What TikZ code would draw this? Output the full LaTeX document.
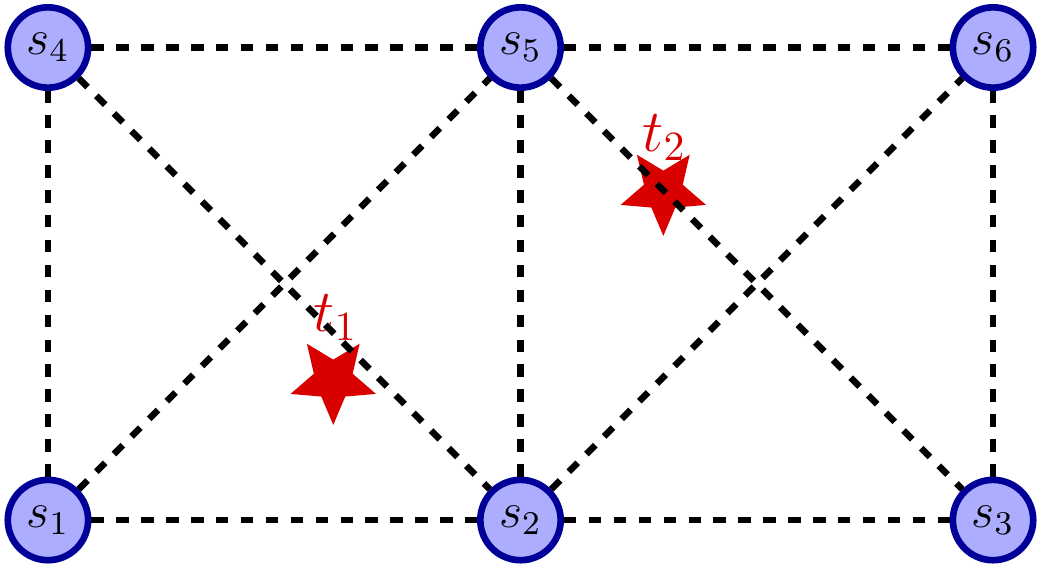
\documentclass[tikz,border=0pt]{standalone}
\usepackage{amsmath}
\usepackage{amssymb}
\usepackage{tikz}
\usetikzlibrary{shapes.geometric}

\tikzset{
  sensor/.style={circle,draw=blue!60!black,fill=blue!32,ultra thick,minimum size=0.68cm,inner sep=0pt,font=\large},
  target/.style={star,star points=5,star point ratio=2.2,shape border rotate=180,fill=red!85!black,minimum size=0.76cm,inner sep=0pt},
  tname/.style={text=red!85!black,font=\Large,inner sep=0pt,anchor=base west},
  link/.style={ultra thick,dashed}
}

\begin{document}
\begin{tikzpicture}
  \useasboundingbox (-0.406,-0.432) rectangle (8.423,4.402);
  % sensors
  \node[sensor] (s1) at (0,0) {$s_1$};
  \node[sensor] (s2) at (4,0) {$s_2$};
  \node[sensor] (s3) at (8,0) {$s_3$};
  \node[sensor] (s4) at (0,4) {$s_4$};
  \node[sensor] (s5) at (4,4) {$s_5$};
  \node[sensor] (s6) at (8,4) {$s_6$};
  % targets
  \node[target] (t1star) at (2.415,1.185) {};
  \node[tname] (t1) at (2.243,1.592) {$t_1$};
  \node[target] (t2star) at (5.209,2.785) {};
  \node[tname] (t2) at (5.026,3.118) {$t_2$};
  % links
  \draw[link] (s1)--(s2);
  \draw[link] (s2)--(s3);
  \draw[link] (s4)--(s5);
  \draw[link] (s5)--(s6);
  \draw[link] (s1)--(s4);
  \draw[link] (s2)--(s5);
  \draw[link] (s3)--(s6);
  \draw[link] (s1)--(s5);
  \draw[link] (s4)--(s2);
  \draw[link] (s2)--(s6);
  \draw[link] (s5)--(s3);
\end{tikzpicture}
\end{document}
